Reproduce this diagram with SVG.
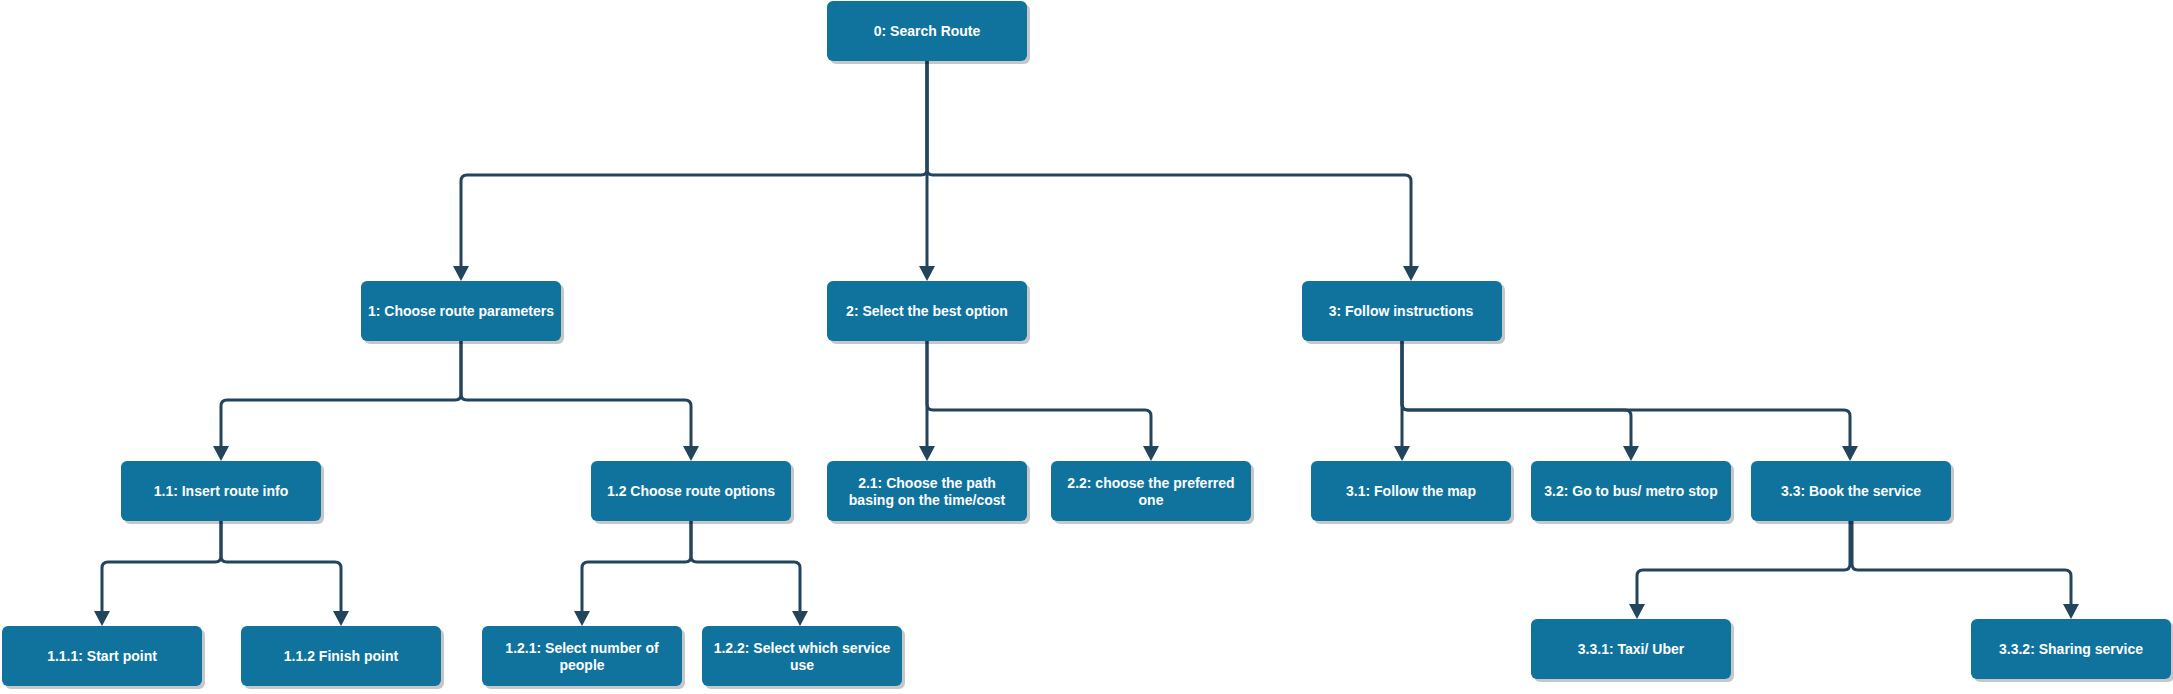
<svg xmlns="http://www.w3.org/2000/svg" width="2173" height="694" viewBox="0 0 2173 694">
<style>
.bx{fill:#10739E;}
.sh{fill:#000;fill-opacity:0.22;}
.t{font-family:"Liberation Sans",Arial,Helvetica,sans-serif;font-size:14px;font-weight:bold;fill:#FFFFFF;text-anchor:middle;dominant-baseline:central;}
.c{fill:none;stroke:#23445D;stroke-width:3;stroke-linejoin:round;marker-end:url(#ah);}
</style>
<defs>
<marker id="ah" markerUnits="userSpaceOnUse" viewBox="0 0 15 16" refX="9" refY="8" markerWidth="15" markerHeight="16" orient="auto">
<path d="M0,0 L15,8 L0,16 z" fill="#23445D"/>
</marker>
</defs>
<rect width="2173" height="694" fill="#FFFFFF"/>
<g id="connectors">
<path class="c" d="M927,61 V169 Q927,175 921,175 H467 Q461,175 461,181 V275"/>
<path class="c" d="M927,61 V275"/>
<path class="c" d="M927,61 V169 Q927,175 933,175 H1405 Q1411,175 1411,181 V275"/>
<path class="c" d="M461,341 V394 Q461,400 455,400 H227 Q221,400 221,406 V455"/>
<path class="c" d="M461,341 V394 Q461,400 467,400 H685 Q691,400 691,406 V455"/>
<path class="c" d="M221,521 V556 Q221,562 215,562 H108 Q102,562 102,568 V620"/>
<path class="c" d="M221,521 V556 Q221,562 227,562 H335 Q341,562 341,568 V620"/>
<path class="c" d="M691,521 V556 Q691,562 685,562 H588 Q582,562 582,568 V620"/>
<path class="c" d="M691,521 V556 Q691,562 697,562 H794 Q800,562 800,568 V620"/>
<path class="c" d="M927,341 V455"/>
<path class="c" d="M927,341 V404 Q927,410 933,410 H1145 Q1151,410 1151,416 V455"/>
<path class="c" d="M1402,341 V455"/>
<path class="c" d="M1402,341 V404 Q1402,410 1408,410 H1625 Q1631,410 1631,416 V455"/>
<path class="c" d="M1402,341 V404 Q1402,410 1408,410 H1844 Q1850,410 1850,416 V455"/>
<path class="c" d="M1850,521 V564 Q1850,570 1844,570 H1643 Q1637,570 1637,576 V613"/>
<path class="c" d="M1852,521 V564 Q1852,570 1858,570 H2065 Q2071,570 2071,576 V613"/>
</g>
<g id="n0"><rect class="sh" x="830" y="4" width="200" height="60" rx="6"/><rect class="bx" x="827" y="1" width="200" height="60" rx="6"/><text class="t" x="927" y="31">0: Search Route</text></g>
<g id="n1"><rect class="sh" x="364" y="284" width="200" height="60" rx="6"/><rect class="bx" x="361" y="281" width="200" height="60" rx="6"/><text class="t" x="461" y="311">1: Choose route parameters</text></g>
<g id="n2"><rect class="sh" x="830" y="284" width="200" height="60" rx="6"/><rect class="bx" x="827" y="281" width="200" height="60" rx="6"/><text class="t" x="927" y="311">2: Select the best option</text></g>
<g id="n3"><rect class="sh" x="1305" y="284" width="200" height="60" rx="6"/><rect class="bx" x="1302" y="281" width="200" height="60" rx="6"/><text class="t" x="1401" y="311">3: Follow instructions</text></g>
<g id="n1_1"><rect class="sh" x="124" y="464" width="200" height="60" rx="6"/><rect class="bx" x="121" y="461" width="200" height="60" rx="6"/><text class="t" x="221" y="491">1.1: Insert route info</text></g>
<g id="n1_2"><rect class="sh" x="594" y="464" width="200" height="60" rx="6"/><rect class="bx" x="591" y="461" width="200" height="60" rx="6"/><text class="t" x="691" y="491">1.2 Choose route options</text></g>
<g id="n2_1"><rect class="sh" x="830" y="464" width="200" height="60" rx="6"/><rect class="bx" x="827" y="461" width="200" height="60" rx="6"/><text class="t" x="927" y="483">2.1: Choose the path</text><text class="t" x="927" y="500">basing on the time/cost</text></g>
<g id="n2_2"><rect class="sh" x="1054" y="464" width="200" height="60" rx="6"/><rect class="bx" x="1051" y="461" width="200" height="60" rx="6"/><text class="t" x="1151" y="483">2.2: choose the preferred</text><text class="t" x="1151" y="500">one</text></g>
<g id="n3_1"><rect class="sh" x="1314" y="464" width="200" height="60" rx="6"/><rect class="bx" x="1311" y="461" width="200" height="60" rx="6"/><text class="t" x="1411" y="491">3.1: Follow the map</text></g>
<g id="n3_2"><rect class="sh" x="1534" y="464" width="200" height="60" rx="6"/><rect class="bx" x="1531" y="461" width="200" height="60" rx="6"/><text class="t" x="1631" y="491">3.2: Go to bus/ metro stop</text></g>
<g id="n3_3"><rect class="sh" x="1754" y="464" width="200" height="60" rx="6"/><rect class="bx" x="1751" y="461" width="200" height="60" rx="6"/><text class="t" x="1851" y="491">3.3: Book the service</text></g>
<g id="n1_1_1"><rect class="sh" x="5" y="629" width="200" height="60" rx="6"/><rect class="bx" x="2" y="626" width="200" height="60" rx="6"/><text class="t" x="102" y="656">1.1.1: Start point</text></g>
<g id="n1_1_2"><rect class="sh" x="244" y="629" width="200" height="60" rx="6"/><rect class="bx" x="241" y="626" width="200" height="60" rx="6"/><text class="t" x="341" y="656">1.1.2 Finish point</text></g>
<g id="n1_2_1"><rect class="sh" x="485" y="629" width="200" height="60" rx="6"/><rect class="bx" x="482" y="626" width="200" height="60" rx="6"/><text class="t" x="582" y="648">1.2.1: Select number of</text><text class="t" x="582" y="665">people</text></g>
<g id="n1_2_2"><rect class="sh" x="705" y="629" width="200" height="60" rx="6"/><rect class="bx" x="702" y="626" width="200" height="60" rx="6"/><text class="t" x="802" y="648">1.2.2: Select which service</text><text class="t" x="802" y="665">use</text></g>
<g id="n3_3_1"><rect class="sh" x="1534" y="622" width="200" height="60" rx="6"/><rect class="bx" x="1531" y="619" width="200" height="60" rx="6"/><text class="t" x="1631" y="649">3.3.1: Taxi/ Uber</text></g>
<g id="n3_3_2"><rect class="sh" x="1974" y="622" width="200" height="60" rx="6"/><rect class="bx" x="1971" y="619" width="200" height="60" rx="6"/><text class="t" x="2071" y="649">3.3.2: Sharing service</text></g>
</svg>
